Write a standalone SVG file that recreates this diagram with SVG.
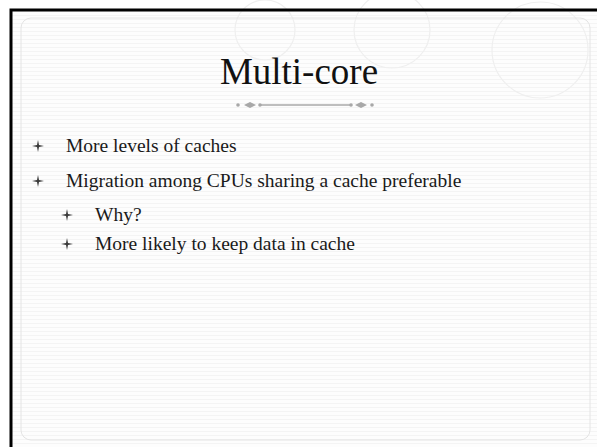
<svg xmlns="http://www.w3.org/2000/svg" width="597" height="447" viewBox="0 0 597 447">
  <defs>
    <pattern id="ruled" x="0" y="0" width="8" height="4" patternUnits="userSpaceOnUse">
      <rect width="8" height="4" fill="#fdfdfd"/>
      <rect y="3" width="8" height="1" fill="#f4f4f4"/>
    </pattern>
    <path id="star" d="M0,-6 L1,-1 L6,0 L1,1 L0,6 L-1,1 L-6,0 L-1,-1 Z"/>
    <style>
      .title { font-family: "Liberation Serif", "Times New Roman", serif; font-size: 37px; fill: #111; }
      .body { font-family: "Liberation Serif", "Times New Roman", serif; font-size: 19.5px; fill: #1a1a1a; }
      .bullet { fill: #3a3a3a; }
      .div { stroke: #a8a8a8; stroke-width: 1.6; fill: none; }
      .divf { fill: #a8a8a8; }
      .stamp { fill: none; stroke: #efefef; stroke-width: 1.2; }
    </style>
  </defs>

  <g id="background">
    <rect width="597" height="447" fill="#ffffff"/>
    <rect x="11" y="10" width="586" height="437" fill="url(#ruled)"/>
    <circle class="stamp" cx="392" cy="30" r="38"/>
    <circle class="stamp" cx="540" cy="50" r="48"/>
    <circle class="stamp" cx="265" cy="30" r="30"/>
    <rect x="21" y="18" width="569" height="422" rx="10" ry="10" fill="none" stroke="#e4e4e4" stroke-width="1"/>
    <path d="M11,447 L11,10 L597,10" fill="none" stroke="#000" stroke-width="3"/>
  </g>

  <g id="title">
    <text class="title" x="299" y="84" text-anchor="middle">Multi-core</text>
  </g>

  <g id="divider">
    <circle class="divf" cx="238" cy="105" r="1.8"/>
    <path class="divf" d="M244,105 L250,102 L256,105 L250,108 Z"/>
    <circle class="divf" cx="260" cy="105" r="1.8"/>
    <line class="div" x1="261" y1="105" x2="350" y2="105"/>
    <circle class="divf" cx="351" cy="105" r="1.8"/>
    <path class="divf" d="M355,105 L361,102 L367,105 L361,108 Z"/>
    <circle class="divf" cx="372" cy="105" r="1.8"/>
  </g>

  <g id="bullets">
    <use href="#star" class="bullet" x="38" y="146"/>
    <text class="body" x="66" y="152">More levels of caches</text>
    <use href="#star" class="bullet" x="38" y="181"/>
    <text class="body" x="66" y="187">Migration among CPUs sharing a cache preferable</text>
    <use href="#star" class="bullet" x="67" y="215"/>
    <text class="body" x="95" y="221">Why?</text>
    <use href="#star" class="bullet" x="67" y="244"/>
    <text class="body" x="95" y="250">More likely to keep data in cache</text>
  </g>
</svg>
